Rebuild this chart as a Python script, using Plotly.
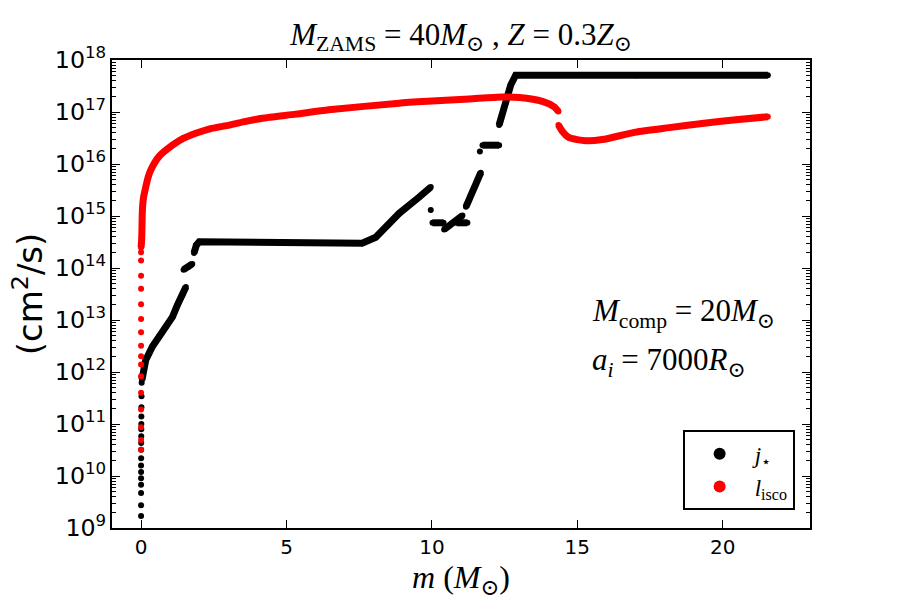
import plotly.graph_objects as go

# ---------------- data ----------------
# j_star: sparse dots near the centre (m ~ 0)
jstar_dot_m = [0.0, 0.0, 0.0, 0.0, 0.0, 0.0, 0.0, 0.002, 0.003, 0.004, 0.005,
               0.006, 0.008, 0.010, 0.012, 0.015, 0.02]
jstar_dot_j = [1.7e9, 2.75e9, 4.7e9, 6.8e9, 9.1e9, 1.2e10, 1.6e10, 2.2e10, 3.2e10,
               4.3e10, 5.8e10, 7.9e10, 1.0e11, 1.4e11, 2.1e11, 3.4e11, 6.2e11]

# j_star: dense parts (None separates the disjoint pieces)
jstar_m = [0.03, 0.16, 0.39, 0.62, 0.85, 1.08, 1.25, 1.42, 1.54, None,
           1.46, 1.62, 1.76, None,
           1.82, 1.90, 2.0, 5.0, 7.6, 8.07, 8.5, 8.87, 9.56, 9.96, None,
           9.96, None,
           10.02, 10.40, None,
           10.42, 10.75, 11.05, None,
           10.85, 11.22, None,
           11.17, 11.68, None,
           11.65, None,
           11.74, 12.31, None,
           12.31, 12.54, 12.71, 12.88, 17.0, 21.55]
jstar_j = [7.1e11, 1.7e12, 3.1e12, 4.8e12, 7.4e12, 1.15e13, 1.95e13, 3.0e13, 4.3e13, None,
           9.3e13, 1.05e14, 1.2e14, None,
           1.95e14, 2.75e14, 3.2e14, 3.1e14, 3.0e14, 3.9e14, 6.8e14, 1.12e15, 2.3e15, 3.6e15, None,
           1.3e15, None,
           7.4e14, 7.4e14, None,
           5.5e14, 7.6e14, 1.02e15, None,
           7.4e14, 7.4e14, None,
           1.5e15, 6.8e15, None,
           1.74e16, None,
           2.3e16, 2.3e16, None,
           5.6e16, 1.5e17, 3.3e17, 5.1e17, 5.1e17, 5.1e17]

# l_isco: sparse dots near the centre
lisco_dot_m = [0.0, 0.0, 0.0, 0.0, 0.0, 0.0, 0.0, 0.0, 0.0, 0.0, 0.0, 0.0,
               0.0, 0.0, 0.0, 0.0, 0.0]
lisco_dot_l = [3.2e10, 4.9e10, 8.7e10, 1.9e11, 4.0e11, 8.3e11, 1.4e12, 2.0e12,
               3.2e12, 5.8e12, 1.05e13, 2.0e13, 4.0e13, 7.1e13, 1.4e14, 2.0e14, 2.5e14]

# l_isco: dense curve
lisco_m = [0.0, 0.02, 0.045, 0.08, 0.16, 0.24, 0.33, 0.62, 1.08, 1.45, 1.88, 2.4,
           3.03, 3.6, 4.17, 5.32, 6.46, 8.87, 10.0, 11.28, 12.4, 13.0, 13.8, 14.2,
           14.35, None,
           14.35, 14.49, 14.72, 15.29, 15.86, 17.0, 18.16, 19.29, 20.45, 21.55]
lisco_l = [2.5e14, 3.5e14, 1.3e15, 2.2e15, 3.6e15, 5.5e15, 7.6e15, 1.4e16, 2.3e16,
           3.1e16, 3.9e16, 4.8e16, 5.6e16, 6.6e16, 7.6e16, 9.1e16, 1.1e17, 1.48e17,
           1.62e17, 1.78e17, 1.95e17, 1.9e17, 1.6e17, 1.26e17, 1.02e17, None,
           5.6e16, 4.2e16, 3.2e16, 2.8e16, 2.95e16, 4.1e16, 5.0e16, 6.0e16, 7.1e16, 8.1e16]

x_tickvals = [0, 5, 10, 15, 20]
y_minor_tickvals = [k * 10.0 ** n for n in range(9, 18) for k in range(2, 10)]

# ---------------- figure ----------------
SERIF = "Liberation Serif, DejaVu Serif, serif"
SANS = "DejaVu Sans, sans-serif"
DOT = 6
LW = 7
Y_RANGE = [9, 18]

fig = go.Figure()

fig.add_trace(go.Scatter(x=jstar_m, y=jstar_j, mode="lines+markers",
                         line=dict(color="black", width=LW),
                         marker=dict(color="black", size=DOT),
                         connectgaps=False, showlegend=False, legendgroup="j",
                         hoverinfo="skip"))
fig.add_trace(go.Scatter(x=jstar_dot_m, y=jstar_dot_j, mode="markers",
                         marker=dict(color="black", size=DOT),
                         name="<i>j</i><sub>\u22c6</sub>", legendgroup="j"))
fig.add_trace(go.Scatter(x=lisco_m, y=lisco_l, mode="lines+markers",
                         line=dict(color="red", width=LW, shape="spline",
                                   smoothing=0.6),
                         marker=dict(color="red", size=DOT),
                         connectgaps=False, showlegend=False, legendgroup="l",
                         hoverinfo="skip"))
fig.add_trace(go.Scatter(x=lisco_dot_m, y=lisco_dot_l, mode="markers",
                         marker=dict(color="red", size=DOT),
                         name="<i>l</i><sub>isco</sub>", legendgroup="l"))
# empty traces so the minor-tick axes get drawn
fig.add_trace(go.Scatter(x=[None], y=[None], yaxis="y2", showlegend=False,
                         hoverinfo="skip"))
fig.add_trace(go.Scatter(x=[None], y=[None], yaxis="y3", showlegend=False,
                         hoverinfo="skip"))

fig.update_layout(
    width=900, height=600,
    margin=dict(l=112, r=90, t=60, b=72),
    paper_bgcolor="white", plot_bgcolor="white",
    font=dict(family=SANS, color="black", size=20),
    title=dict(text="<i>M</i><sub>ZAMS</sub> = 40<i>M</i><sub>\u2299</sub> , "
                    "<i>Z</i> = 0.3<i>Z</i><sub>\u2299</sub>",
               font=dict(family=SERIF, size=31, color="black"),
               x=0.5, xref="paper", xanchor="center",
               y=1 - 34 / 600, yref="container", yanchor="middle"),
    legend=dict(x=0.978, y=0.038, xanchor="right", yanchor="bottom",
                bordercolor="black", borderwidth=2, bgcolor="white",
                font=dict(family=SERIF, size=23, color="black"),
                itemsizing="constant", tracegroupgap=0, itemwidth=60),
    showlegend=True,
)

fig.update_xaxes(range=[-1, 23], tickvals=x_tickvals, ticks="inside", ticklen=8,
                 tickwidth=1.2, tickcolor="black", showline=True, linewidth=2,
                 linecolor="black", mirror="ticks", showgrid=False, zeroline=False,
                 tickfont=dict(family=SANS, size=20),
                 title=dict(text="<i>m</i> (<i>M</i><sub>\u2299</sub>)",
                            font=dict(family=SERIF, size=32), standoff=8))

fig.update_layout(yaxis=dict(
    type="log", range=Y_RANGE, dtick=1, exponentformat="power",
    showexponent="all", ticks="inside", ticklen=8, tickwidth=1.2,
    tickcolor="black", showline=True, linewidth=2, linecolor="black",
    mirror="ticks", showgrid=False, zeroline=False,
    tickfont=dict(family=SANS, size=19),
    title=dict(text="(cm<sup>2</sup>/s)", font=dict(family=SANS, size=34),
               standoff=2)))

minor_axis = dict(type="log", range=Y_RANGE, overlaying="y", anchor="x",
                  tickmode="array", tickvals=y_minor_tickvals,
                  showticklabels=False,
                  ticks="inside", ticklen=4, tickwidth=1, tickcolor="black",
                  showline=False, showgrid=False, zeroline=False)
fig.update_layout(yaxis2=dict(minor_axis, side="left"),
                  yaxis3=dict(minor_axis, side="right"))

fig.add_annotation(xref="paper", yref="paper",
                   x=(590 - 112) / 698, y=(528 - 313) / 468,
                   xanchor="left", yanchor="middle", showarrow=False,
                   text="<i>M</i><sub>comp</sub> = 20<i>M</i><sub>\u2299</sub>",
                   font=dict(family=SERIF, size=31, color="black"))
fig.add_annotation(xref="paper", yref="paper",
                   x=(590 - 112) / 698, y=(528 - 362) / 468,
                   xanchor="left", yanchor="middle", showarrow=False,
                   text="<i>a</i><sub><i>i</i></sub> = 7000<i>R</i><sub>\u2299</sub>",
                   font=dict(family=SERIF, size=31, color="black"))

fig.write_html("out.html")
